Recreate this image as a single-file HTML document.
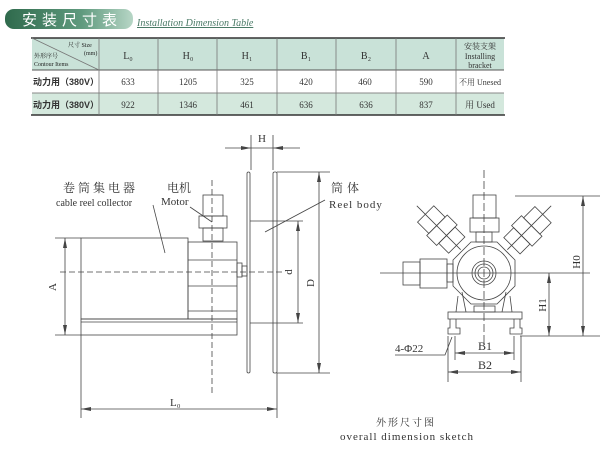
<!DOCTYPE html>
<html><head><meta charset="utf-8"><style>
body{margin:0;background:#fff;width:613px;height:454px;overflow:hidden;font-family:"Liberation Serif","Noto Serif CJK SC",serif}
</style></head><body>
<svg width="613" height="454" viewBox="0 0 613 454" xmlns="http://www.w3.org/2000/svg">
<defs><linearGradient id="g" x1="0" y1="0" x2="1" y2="0"><stop offset="0" stop-color="#2f6a4c"/><stop offset="0.6" stop-color="#5f9a7e"/><stop offset="1" stop-color="#b7d6c6"/></linearGradient>
<marker id="a" viewBox="0 0 10 4" refX="10" refY="2" markerWidth="10" markerHeight="4" orient="auto-start-reverse" markerUnits="userSpaceOnUse"><path d="M0 0 L10 2 L0 4z" fill="#444"/></marker></defs>
<rect x="5" y="9" width="128" height="20" rx="9" fill="url(#g)"/>
<text x="22" y="25" fill="#fff" font-size="15" letter-spacing="5" font-family="Liberation Sans,Noto Sans CJK SC,sans-serif">安装尺寸表</text>
<text x="137" y="26" fill="#4a7a66" font-size="10" font-style="italic" text-decoration="underline">Installation Dimension Table</text>
<rect x="32" y="38" width="472" height="32" fill="#c9e2d8"/>
<rect x="32" y="70" width="472" height="23" fill="#fff"/>
<rect x="32" y="93" width="472" height="22" fill="#d4e8dd"/>
<line x1="31" y1="38" x2="505" y2="38" stroke="#333" stroke-width="1.5"/>
<line x1="31" y1="115" x2="505" y2="115" stroke="#333" stroke-width="1.5"/>
<line x1="32" y1="70" x2="504" y2="70" stroke="#555"/>
<line x1="32" y1="93" x2="504" y2="93" stroke="#888"/>
<g stroke="#777" stroke-width="0.8">
<line x1="99" y1="38" x2="99" y2="115"/><line x1="158" y1="38" x2="158" y2="115"/><line x1="217" y1="38" x2="217" y2="115"/><line x1="277" y1="38" x2="277" y2="115"/><line x1="336" y1="38" x2="336" y2="115"/><line x1="396" y1="38" x2="396" y2="115"/><line x1="456" y1="38" x2="456" y2="115"/>
<line x1="32" y1="38" x2="99" y2="70"/></g>
<g font-size="6" fill="#222"><text x="68" y="47">尺寸 Size</text><text x="84" y="55">(mm)</text><text x="34" y="58">外形序号</text><text x="34" y="66">Contour Items</text></g>
<g font-size="10" fill="#333" text-anchor="middle">
<text x="128" y="59">L₀</text><text x="188" y="59">H₀</text><text x="247" y="59">H₁</text><text x="306" y="59">B₁</text><text x="366" y="59">B₂</text><text x="426" y="59">A</text>
<text x="480" y="49" font-size="8">安装支架</text><text x="480" y="59" font-size="8">Installing</text><text x="480" y="68" font-size="8">bracket</text>
<text x="365" y="85" font-size="9">460</text>
<text x="128" y="85" font-size="9">633</text><text x="188" y="85" font-size="9">1205</text><text x="247" y="85" font-size="9">325</text><text x="306" y="85" font-size="9">420</text><text x="426" y="85" font-size="9">590</text>
<text x="128" y="108" font-size="9">922</text><text x="188" y="108" font-size="9">1346</text><text x="247" y="108" font-size="9">461</text><text x="306" y="108" font-size="9">636</text><text x="366" y="108" font-size="9">636</text><text x="426" y="108" font-size="9">837</text>
<text x="480" y="85" font-size="8">不用 Unesed</text><text x="480" y="108" font-size="9">用 Used</text>
<text x="66" y="85" font-size="9" font-family="Liberation Sans,Noto Sans CJK SC,sans-serif" font-weight="bold">动力用（380V）</text>
<text x="66" y="108" font-size="9" font-family="Liberation Sans,Noto Sans CJK SC,sans-serif" font-weight="bold">动力用（380V）</text>
</g>
<g stroke="#444" stroke-width="0.8" fill="none">
<rect x="81" y="238" width="107" height="81"/>
<rect x="188" y="242" width="49" height="77"/>
<line x1="188" y1="260" x2="237" y2="260"/><line x1="188" y1="286" x2="237" y2="286"/><line x1="188" y1="311" x2="237" y2="311"/>
<rect x="81" y="319" width="156" height="16"/><line x1="81" y1="322" x2="237" y2="322"/>
<rect x="237" y="263" width="5" height="14"/><rect x="242" y="266" width="5" height="10"/>
<rect x="203" y="195" width="20" height="21"/><rect x="199" y="216" width="28" height="12"/><rect x="203" y="228" width="20" height="13"/>
<rect x="247" y="172" width="3" height="201" rx="1.5"/><rect x="273" y="172" width="4" height="201" rx="1.5"/>
<line x1="250" y1="221" x2="273" y2="221"/><line x1="250" y1="323" x2="273" y2="323"/>
<line x1="212" y1="180" x2="212" y2="395" stroke-dasharray="6,3"/>
<line x1="60" y1="272" x2="282" y2="272" stroke-dasharray="6,3"/>
<line x1="251" y1="135" x2="251" y2="170"/><line x1="273" y1="135" x2="273" y2="170"/>
<line x1="225" y1="148" x2="251" y2="148" marker-end="url(#a)"/><line x1="300" y1="148" x2="273" y2="148" marker-end="url(#a)"/><line x1="251" y1="148" x2="273" y2="148"/>
<line x1="55" y1="238" x2="81" y2="238"/><line x1="55" y1="335" x2="81" y2="335"/><line x1="65" y1="238" x2="65" y2="335" marker-start="url(#a)" marker-end="url(#a)"/>
<line x1="273" y1="221" x2="303" y2="221"/><line x1="273" y1="323" x2="303" y2="323"/><line x1="298" y1="221" x2="298" y2="323" marker-start="url(#a)" marker-end="url(#a)"/>
<line x1="277" y1="172" x2="330" y2="172"/><line x1="277" y1="373" x2="330" y2="373"/><line x1="319" y1="172" x2="319" y2="373" marker-start="url(#a)" marker-end="url(#a)"/>
<line x1="81" y1="335" x2="81" y2="418"/><line x1="277" y1="373" x2="277" y2="418"/><line x1="81" y1="409" x2="277" y2="409" marker-start="url(#a)" marker-end="url(#a)"/>
<line x1="153" y1="205" x2="165" y2="253"/><line x1="190" y1="207" x2="212" y2="222"/><line x1="325" y1="200" x2="265" y2="232"/>
</g>
<g font-size="12" fill="#333">
<text x="262" y="142" font-size="11" text-anchor="middle">H</text>
<text x="63" y="192" letter-spacing="3">卷筒集电器</text><text x="56" y="206" font-size="10">cable reel collector</text>
<text x="167" y="192">电机</text><text x="161" y="205" font-size="11">Motor</text>
<text x="331" y="192" letter-spacing="4">筒体</text><text x="329" y="208" font-size="11" letter-spacing="1">Reel body</text>
<text x="170" y="406" font-size="11">L₀</text>
<text transform="translate(56,287) rotate(-90)" font-size="11" text-anchor="middle">A</text>
<text transform="translate(292,272) rotate(-90)" font-size="11" text-anchor="middle">d</text>
<text transform="translate(314,283) rotate(-90)" font-size="11" text-anchor="middle">D</text>
</g>
<g stroke="#444" stroke-width="0.8" fill="none">
<line x1="380" y1="273" x2="590" y2="273"/><line x1="484" y1="170" x2="484" y2="345" stroke-dasharray="8,3"/>
<polygon points="471,242 497,242 515,260 515,286 497,304 471,304 453,286 453,260"/>
<circle cx="484" cy="273" r="27"/><circle cx="484" cy="273" r="12"/><circle cx="484" cy="273" r="9"/><circle cx="484" cy="273" r="6"/>
<rect x="473" y="195" width="23" height="23"/><rect x="470" y="218" width="29" height="14"/><rect x="476" y="232" width="16" height="10"/>
<rect x="403" y="262" width="17" height="23"/><rect x="420" y="259" width="27" height="29"/><rect x="447" y="264" width="6" height="18"/>
<g transform="rotate(-45 484 273)"><rect x="473" y="190" width="23" height="16"/><rect x="470" y="206" width="29" height="14"/><rect x="473" y="220" width="23" height="14"/><line x1="484" y1="178" x2="484" y2="240"/></g>
<g transform="rotate(45 484 273)"><rect x="473" y="190" width="23" height="16"/><rect x="470" y="206" width="29" height="14"/><rect x="473" y="220" width="23" height="14"/><line x1="484" y1="178" x2="484" y2="240"/></g>
<path d="M458 296 L456 312 M510 296 L512 312 M462 292 L466 312 M506 292 L502 312"/>
<rect x="448" y="312" width="74" height="7"/><rect x="474" y="306" width="21" height="6"/>
<path d="M450 319 V328 H448 V334 H460 V328 H456 V319"/><path d="M520 319 V328 H522 V334 H510 V328 H514 V319"/>
<line x1="515" y1="196" x2="600" y2="196"/><line x1="520" y1="336" x2="600" y2="336"/>
<line x1="583" y1="196" x2="583" y2="336" marker-start="url(#a)" marker-end="url(#a)"/><line x1="549" y1="273" x2="549" y2="336" marker-start="url(#a)" marker-end="url(#a)"/>
<line x1="448" y1="336" x2="448" y2="382"/><line x1="455" y1="336" x2="455" y2="360"/><line x1="514" y1="336" x2="514" y2="360"/><line x1="521" y1="336" x2="521" y2="382"/>
<line x1="455" y1="353" x2="514" y2="353" marker-start="url(#a)" marker-end="url(#a)"/><line x1="448" y1="372" x2="521" y2="372" marker-start="url(#a)" marker-end="url(#a)"/>
<path d="M395 355 L445 355 L452 337"/>
</g>
<g font-size="12" fill="#333">
<text x="485" y="350" text-anchor="middle">B1</text><text x="485" y="369" text-anchor="middle">B2</text>
<text x="395" y="352" font-size="11">4-Φ22</text>
<text transform="translate(580,262) rotate(-90)" text-anchor="middle" font-size="11">H0</text>
<text transform="translate(546,305) rotate(-90)" text-anchor="middle" font-size="11">H1</text>
<text x="376" y="426" font-size="10" letter-spacing="2">外形尺寸图</text>
<text x="340" y="440" font-size="11" letter-spacing="1">overall dimension sketch</text>
</g>
</svg>
</body></html>
